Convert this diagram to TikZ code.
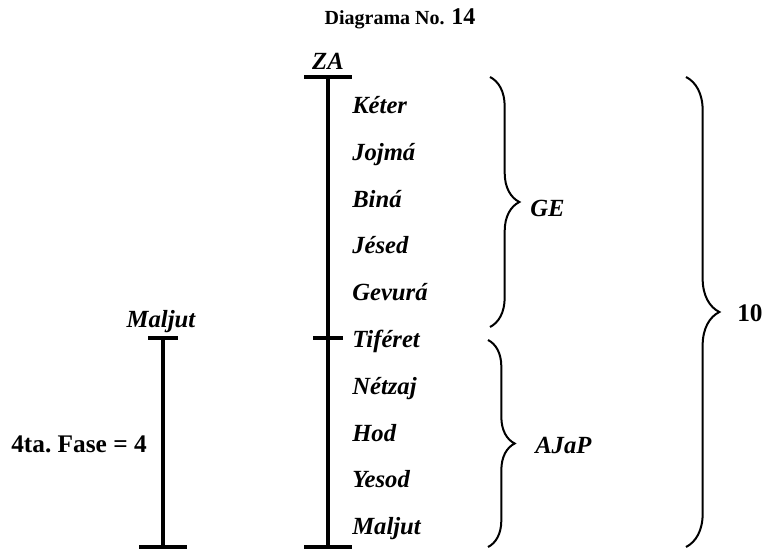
\documentclass[tikz,border=0pt]{standalone}
\usepackage{fontspec}
\setmainfont{Liberation Serif}
\usetikzlibrary{positioning,calc,decorations.pathreplacing}

\begin{document}
\begin{tikzpicture}[
  x=0.75pt, y=-0.75pt,
  bar/.style={line width=2.3pt},
  sefira/.style={anchor=base west, inner sep=0pt, font=\fontsize{18.5}{20}\selectfont\bfseries\itshape},
  label/.style={inner sep=0pt, font=\fontsize{18.5}{20}\selectfont\bfseries\itshape},
  brc/.style={decorate, decoration={brace, amplitude=#1}, line width=1.5pt},
]
  \useasboundingbox (0,0) rectangle (764,549);

  % title
  \node[anchor=base, inner sep=0pt, font=\fontsize{15}{16}\selectfont\bfseries] (title) at (400,25)
    {Diagrama No. {\fontsize{18}{18}\selectfont 14}};

  % ZA line
  \coordinate (za-top) at (328,77);
  \coordinate (za-bot) at (328,547);
  \coordinate (za-tif) at (328,338);
  \draw[bar] (za-top) -- (za-bot);
  \draw[bar] ($(za-top)+(-24,0)$) -- ($(za-top)+(24,0)$);
  \draw[bar] ($(za-bot)+(-24,0)$) -- ($(za-bot)+(24,0)$);
  \draw[bar] ($(za-tif)+(-15,0)$) -- ($(za-tif)+(15,0)$);
  \node[label, anchor=base] (za) at (328,70) {ZA};

  % Maljut line
  \coordinate (mal-top) at (163,338);
  \coordinate (mal-bot) at (163,547);
  \draw[bar] (mal-top) -- (mal-bot);
  \draw[bar] ($(mal-top)+(-15,0)$) -- ($(mal-top)+(15,0)$);
  \draw[bar] ($(mal-bot)+(-24,0)$) -- ($(mal-bot)+(24,0)$);
  \node[label, anchor=base] (maljut) at (161,327) {Maljut};
  \node[anchor=base east, inner sep=0pt, font=\fontsize{19}{20}\selectfont\bfseries] (fase) at (147,452)
    {4ta.\ Fase = 4};

  % sefirot
  \node[sefira] (keter)   at (352,113.5) {Kéter};
  \node[sefira] (jojma)   at (352,160.3) {Jojmá};
  \node[sefira] (bina)    at (352,207.1) {Biná};
  \node[sefira] (jesed)   at (352,253.9) {Jésed};
  \node[sefira] (gevura)  at (352,300.7) {Gevurá};
  \node[sefira] (tiferet) at (352,347.5) {Tiféret};
  \node[sefira] (netzaj)  at (352,394.3) {Nétzaj};
  \node[sefira] (hod)     at (352,441.1) {Hod};
  \node[sefira] (yesod)   at (352,487.9) {Yesod};
  \node[sefira] (maljut2) at (352,534.7) {Maljut};

  % braces
  \coordinate (ge-top) at (490,77);
  \coordinate (ge-bot) at (490,327);
  \coordinate (ajap-top) at (488,340);
  \coordinate (ajap-bot) at (488,547);
  \coordinate (all-top) at (686,77);
  \coordinate (all-bot) at (686,547);
  \draw[brc=22pt] (ge-top) -- (ge-bot);
  \draw[brc=20pt] (ajap-top) -- (ajap-bot);
  \draw[brc=25pt] (all-top) -- (all-bot);
  \node[label, anchor=west] (ge) at (530,208) {GE};
  \node[label, anchor=west] (ajap) at (535,445) {AJaP};
  \node[inner sep=0pt, anchor=west, font=\fontsize{19}{20}\selectfont\bfseries] (diez) at (737,313) {10};
\end{tikzpicture}
\end{document}
